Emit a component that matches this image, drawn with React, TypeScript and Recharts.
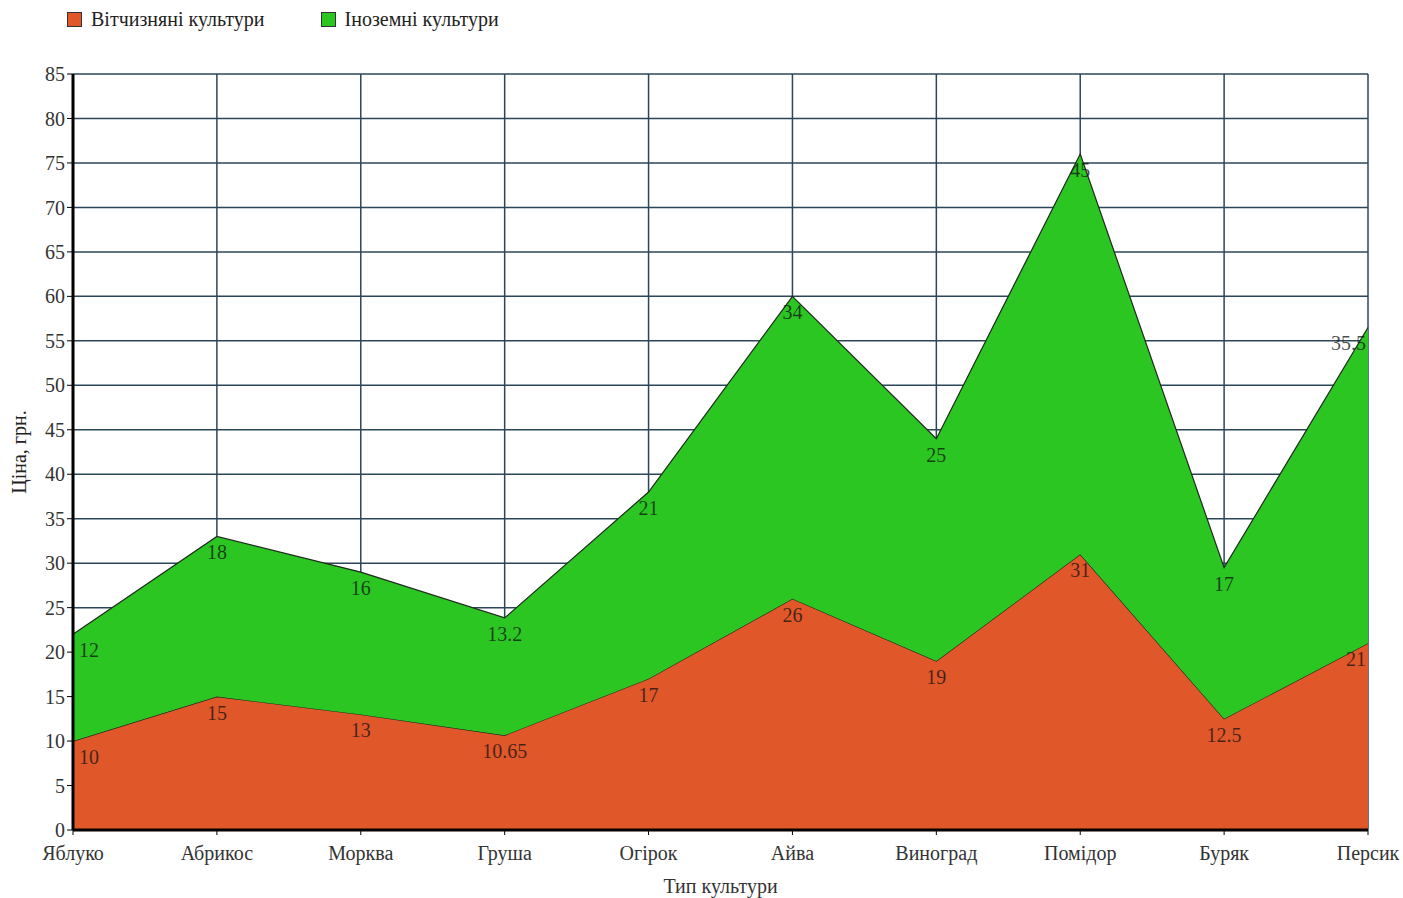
import { Area, AreaChart, CartesianGrid, Label, LabelList, Legend, XAxis, YAxis } from "recharts";

const crops = ["Яблуко", "Абрикос", "Морква", "Груша", "Огірок", "Айва", "Виноград", "Помідор", "Буряк", "Персик"];
const domestic = [10, 15, 13, 10.65, 17, 26, 19, 31, 12.5, 21];
const foreign = [12, 18, 16, 13.2, 21, 34, 25, 45, 17, 35.5];
const yTicks = [0, 5, 10, 15, 20, 25, 30, 35, 40, 45, 50, 55, 60, 65, 70, 75, 80, 85];

const FONT = "'Liberation Serif', 'Times New Roman', serif";
const RED = "#e0572a";
const GREEN = "#2cc623";

const data = crops.map((name, i) => ({ name, domestic: domestic[i], foreign: foreign[i] }));

// value labels sit just under each point; first/last are pulled inside the plot
function makeLabel(count: number) {
  return (props: any) => {
    const { x, y, value, index } = props;
    let anchor: "start" | "middle" | "end" = "middle";
    let dx = 0;
    if (index === 0) {
      anchor = "start";
      dx = 6;
    } else if (index === count - 1) {
      anchor = "end";
      dx = -2;
    }
    return (
      <text
        x={x + dx}
        y={y + 23}
        textAnchor={anchor}
        fontFamily={FONT}
        fontSize={20}
        fill="#111"
        fillOpacity={0.75}
      >
        {value}
      </text>
    );
  };
}

function TopLegend() {
  const items = [
    { label: "Вітчизняні культури", color: RED },
    { label: "Іноземні культури", color: GREEN },
  ];
  return (
    <div style={{ display: "flex", fontFamily: FONT, fontSize: 20, color: "#222", lineHeight: "23px" }}>
      {items.map((it) => (
        <div key={it.label} style={{ display: "flex", alignItems: "center", marginRight: 56 }}>
          <span
            style={{
              display: "inline-block",
              width: 13,
              height: 13,
              background: it.color,
              border: "1px solid #333",
              marginRight: 9,
            }}
          />
          {it.label}
        </div>
      ))}
    </div>
  );
}

export default function App() {
  return (
    <div style={{ position: "absolute", left: 0, top: 0, background: "#fff" }}>
      <AreaChart
        width={1403}
        height={898}
        data={data}
        margin={{ top: 51, right: 35, bottom: 38, left: 0 }}
      >
        <CartesianGrid stroke="#2b4659" strokeWidth={1.5} />
        <Legend
          verticalAlign="top"
          align="left"
          content={() => <TopLegend />}
          wrapperStyle={{ top: 8, left: 67 }}
        />
        <XAxis
          dataKey="name"
          tickLine={{ stroke: "#000" }}
          axisLine={{ stroke: "#000", strokeWidth: 3 }}
          tickSize={5}
          tickMargin={11}
          height={30}
          interval={0}
          tick={{ fontFamily: FONT, fontSize: 20, fill: "#333" }}
        >
          <Label
            value="Тип культури"
            position="bottom"
            offset={19}
            style={{ fontFamily: FONT, fontSize: 20, fill: "#333" }}
          />
        </XAxis>
        <YAxis
          domain={[0, 85]}
          ticks={yTicks}
          interval={0}
          width={73}
          tickSize={6}
          tickMargin={2}
          tickLine={{ stroke: "#000" }}
          axisLine={{ stroke: "#000", strokeWidth: 3 }}
          tick={{ fontFamily: FONT, fontSize: 20, fill: "#333" }}
        >
          <Label
            value="Ціна, грн."
            angle={-90}
            position="insideLeft"
            offset={19}
            style={{ fontFamily: FONT, fontSize: 20, fill: "#222", textAnchor: "middle" }}
          />
        </YAxis>
        <Area
          type="linear"
          dataKey="domestic"
          stackId="a"
          fill={RED}
          fillOpacity={1}
          stroke="#1d2a1d"
          strokeWidth={1.2}
          isAnimationActive={false}
        >
          <LabelList dataKey="domestic" content={makeLabel(crops.length)} />
        </Area>
        <Area
          type="linear"
          dataKey="foreign"
          stackId="a"
          fill={GREEN}
          fillOpacity={1}
          stroke="#1d2a1d"
          strokeWidth={1.2}
          isAnimationActive={false}
        >
          <LabelList dataKey="foreign" content={makeLabel(crops.length)} />
        </Area>
      </AreaChart>
    </div>
  );
}
